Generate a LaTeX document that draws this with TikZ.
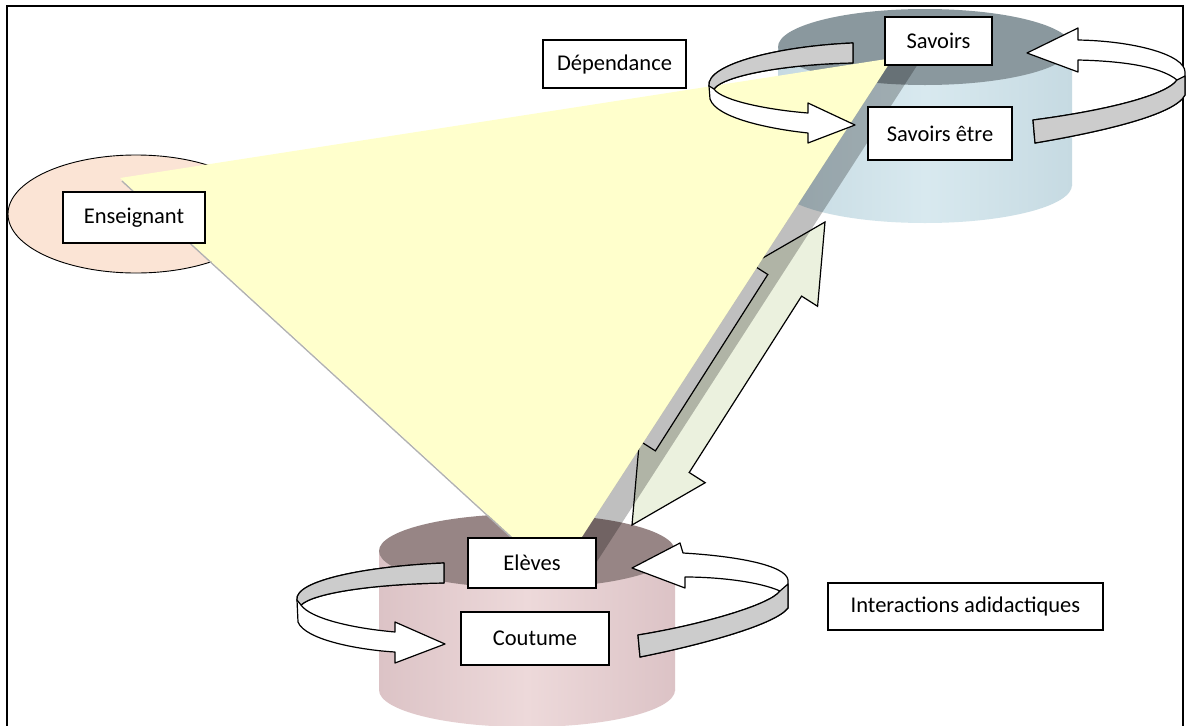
\documentclass[tikz,border=0pt]{standalone}
\usepackage{fontspec}
\setmainfont{Carlito}
\definecolor{peach}{HTML}{FBE4D5}
\definecolor{sunny}{HTML}{FFFFCC}
\definecolor{savtop}{HTML}{8A989E}
\definecolor{savbody}{HTML}{D8E9EF}
\definecolor{savside}{HTML}{C6DAE2}
\definecolor{eletop}{HTML}{978585}
\definecolor{elebody}{HTML}{EDD9DA}
\definecolor{eleside}{HTML}{DCC3C6}
\definecolor{ribbon}{HTML}{CCCCCC}
\definecolor{pale}{HTML}{EBF1DE}
\begin{document}
\begin{tikzpicture}[x=1pt,y=-1pt]
\tikzstyle{every node}+=[inner sep=0pt]
\tikzstyle{lbl}=[draw=black, fill=white, line width=1.4pt, font=\fontsize{22.5}{27}\selectfont]
\tikzstyle{loop}=[draw=black, line width=1.2pt, line join=round]
\tikzstyle{savshade}=[left color=savside, right color=savside, middle color=savbody]
\tikzstyle{eleshade}=[left color=eleside, right color=eleside, middle color=elebody]
\useasboundingbox (0,0) rectangle (1187,726);
\clip (0,0) rectangle (1187,726);
\fill [white] (0,0) rectangle (1187,726);
\draw [black, line width=1.6pt] (7,740) -- (7,6) -- (1183,6) -- (1183,740);
\draw [black, fill=peach, line width=0.9pt] (136,214) ellipse (128 and 59);
\shade [savshade] (778,47) rectangle (1072,185);
\shade [savshade] (925,185) ellipse (147 and 38);
\fill [savtop] (925,47) ellipse (147 and 38);
\shade [eleshade] (379,551) rectangle (675,690);
\shade [eleshade] (527,690) ellipse (148 and 37);
\fill [eletop] (527,551) ellipse (148 and 37);
\coordinate (arr-top) at (825,222);
\coordinate (arr-bot) at (632,525);
\draw [black, fill=pale, line width=1.2pt] (arr-top) -- (817.6,306.3) -- (801.6,296.1) -- (689.2,472.5) -- (705.2,482.7) -- (arr-bot) -- (639.4,440.7) -- (655.4,450.9) -- (767.8,274.5) -- (751.8,264.3) -- cycle;
\coordinate (tri-l) at (120,178);
\coordinate (tri-r) at (893,58);
\coordinate (tri-b) at (556,577);
\draw [gray!60, line width=1.5pt] ([shift={(2,3)}]tri-l) -- ([shift={(2,3)}]tri-b);
\fill [sunny] (tri-l) -- (tri-r) -- (tri-b) -- cycle;
\fill [black, opacity=0.25] (tri-r) -- (918,64) -- (587,577) -- (tri-b) -- cycle;
\draw [loop, fill=white] (853,43) .. controls (780,46) and (706,64) .. (709,86) -- (710,99) .. controls (716,118) and (770,129) .. (808,133) -- (808,143) -- (855,125) -- (808,103) -- (808,113) .. controls (770,110) and (722,101) .. (714,89) .. controls (724,75) and (790,64) .. (853,63) -- cycle;
\draw [loop, fill=ribbon] (853,43) .. controls (780,46) and (706,64) .. (709,86) -- (714,89) .. controls (724,75) and (790,64) .. (853,63) -- cycle;
\draw [loop, fill=white] (1027,53) -- (1078,28) -- (1078,40) .. controls (1135,41) and (1185,55) .. (1185,72) -- (1185,95) .. controls (1175,115) and (1100,132) .. (1035,143) -- (1033,120) .. controls (1095,112) and (1165,97) .. (1177,80) .. controls (1160,66) and (1120,61) .. (1078,60) -- (1078,72) -- cycle;
\draw [loop, fill=ribbon] (1185,76) -- (1185,95) .. controls (1175,115) and (1100,132) .. (1035,143) -- (1033,120) .. controls (1095,112) and (1165,97) .. (1177,80) -- cycle;
\draw [loop, fill=white] (444,563) .. controls (370,566) and (294,580) .. (297,600) -- (298,622) .. controls (305,640) and (360,650) .. (395,652) -- (395,663) -- (445,644) -- (395,622) -- (395,632) .. controls (350,628) and (310,618) .. (301,605) .. controls (315,592) and (380,584) .. (444,583) -- cycle;
\draw [loop, fill=ribbon] (444,563) .. controls (370,566) and (294,580) .. (297,600) -- (301,605) .. controls (315,592) and (380,584) .. (444,583) -- cycle;
\draw [loop, fill=white] (632,568) -- (680,543) -- (683,553) .. controls (735,556) and (786,565) .. (788,580) -- (788,608) .. controls (775,625) and (700,645) .. (640,657) -- (638,635) .. controls (700,625) and (770,605) .. (780,591) .. controls (760,582) and (720,577) .. (685,577) -- (685,588) -- cycle;
\draw [loop, fill=ribbon] (788,584) -- (788,608) .. controls (775,625) and (700,645) .. (640,657) -- (638,635) .. controls (700,625) and (770,605) .. (780,591) -- cycle;
\node [lbl, minimum width=107, minimum height=48] (savoirs) at (938.5,41) {Savoirs};
\node [lbl, minimum width=144, minimum height=53] (etre) at (940,133.5) {Savoirs être};
\node [lbl, minimum width=143, minimum height=48] (dependance) at (614.5,64) {Dépendance};
\node [lbl, minimum width=142, minimum height=51] (enseignant) at (134,217.5) {Enseignant};
\node [lbl, minimum width=128, minimum height=50] (eleves) at (532,563) {Elèves};
\node [lbl, minimum width=148, minimum height=53] (coutume) at (535,638.5) {Coutume};
\node [lbl, minimum width=275, minimum height=47] (adidact) at (965.5,606.5) {Interactions adidactiques};
\end{tikzpicture}
\end{document}
